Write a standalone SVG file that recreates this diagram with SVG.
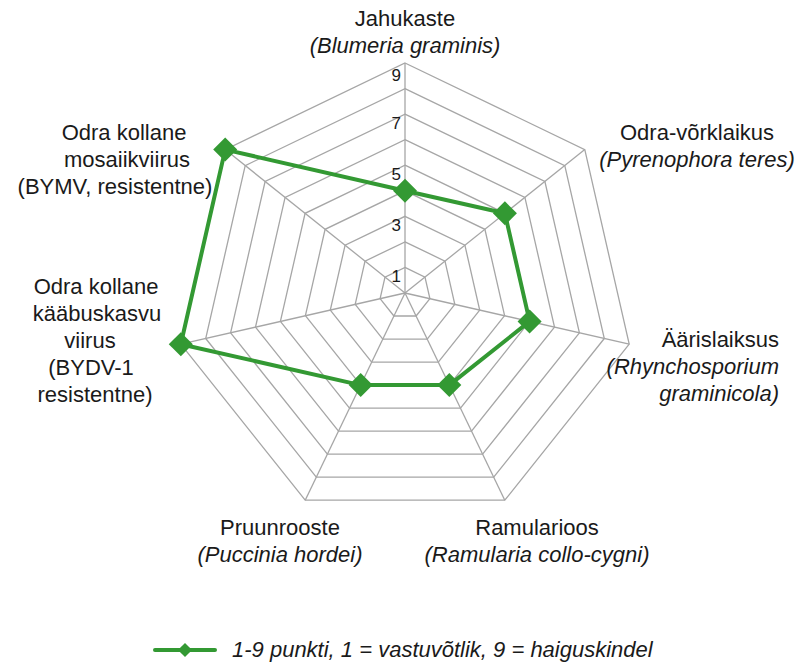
<svg xmlns="http://www.w3.org/2000/svg" width="812" height="667" viewBox="0 0 812 667">
<style>
.g polygon{fill:none;stroke:#a6a6a6;stroke-width:1.3}
text{font-family:"Liberation Sans",Arial,sans-serif;font-size:22px;fill:#1a1a1a}
.i{font-style:italic}
.n{font-size:17px;text-anchor:end}
.d{fill:#339933}
</style>
<defs>
<rect id="m" x="-8.5" y="-8.5" width="17" height="17" transform="rotate(45)"/>
</defs>
<rect width="812" height="667" fill="#fff"/>
<g id="grid" class="g">
<polygon points="405,267.4 425.0,277.1 429.9,298.7 416.1,316.0 393.9,316.0 380.1,298.7 385.0,277.1"/>
<polygon points="405,241.9 445.0,261.1 454.8,304.4 427.2,339.1 382.8,339.1 355.2,304.4 365.0,261.1"/>
<polygon points="405,216.3 464.9,245.2 479.7,310.1 438.3,362.1 371.7,362.1 330.3,310.1 345.1,245.2"/>
<polygon points="405,190.8 484.9,229.3 504.6,315.7 449.3,385.1 360.7,385.1 305.4,315.7 325.1,229.3"/>
<polygon points="405,165.2 504.9,213.3 529.6,321.4 460.5,408.1 349.5,408.1 280.4,321.4 305.1,213.3"/>
<polygon points="405,139.7 524.9,197.4 554.5,327.1 471.5,431.1 338.5,431.1 255.5,327.1 285.1,197.4"/>
<polygon points="405,114.1 544.9,181.5 579.4,332.8 482.6,454.2 327.4,454.2 230.6,332.8 265.1,181.5"/>
<polygon points="405,88.6 564.8,165.6 604.3,338.5 493.7,477.2 316.3,477.2 205.7,338.5 245.2,165.6"/>
<polygon points="405,63 584.8,149.6 629.2,344.2 504.8,500.2 305.2,500.2 180.8,344.2 225.2,149.6"/>
</g>
<g id="spokes" stroke="#a6a6a6" stroke-width="1.3">
<line x1="405" y1="293" x2="405" y2="63"/>
<line x1="405" y1="293" x2="584.8" y2="149.6"/>
<line x1="405" y1="293" x2="629.2" y2="344.2"/>
<line x1="405" y1="293" x2="504.8" y2="500.2"/>
<line x1="405" y1="293" x2="305.2" y2="500.2"/>
<line x1="405" y1="293" x2="180.8" y2="344.2"/>
<line x1="405" y1="293" x2="225.2" y2="149.6"/>
</g>
<g id="ticks">
<text class="n" x="401" y="282">1</text>
<text class="n" x="401" y="231">3</text>
<text class="n" x="401" y="180">5</text>
<text class="n" x="401" y="129">7</text>
<text class="n" x="401" y="81">9</text>
</g>
<g id="series">
<polygon points="405,190.8 504.9,213.3 529.6,321.4 449.3,385.1 360.7,385.1 180.8,344.2 225.2,149.6" fill="none" stroke="#339933" stroke-width="4" stroke-linejoin="round"/>
<g class="d">
<use href="#m" x="405" y="190.8"/>
<use href="#m" x="504.9" y="213.3"/>
<use href="#m" x="529.6" y="321.4"/>
<use href="#m" x="449.3" y="385.1"/>
<use href="#m" x="360.7" y="385.1"/>
<use href="#m" x="180.8" y="344.2"/>
<use href="#m" x="225.2" y="149.6"/>
</g>
</g>
<g id="labels">
<g text-anchor="middle">
<text x="405" y="26">Jahukaste</text>
<text x="405" y="53" class="i">(Blumeria graminis)</text>
<text x="697" y="140">Odra-võrklaikus</text>
<text x="697" y="167" class="i">(Pyrenophora teres)</text>
<text x="537" y="535">Ramularioos</text>
<text x="537" y="562" class="i">(Ramularia collo-cygni)</text>
<text x="280" y="535">Pruunrooste</text>
<text x="280" y="562" class="i">(Puccinia hordei)</text>
<text x="124" y="140">Odra kollane</text>
<text x="127" y="167">mosaiikviirus</text>
<text x="115" y="194">(BYMV, resistentne)</text>
<text x="96" y="294">Odra kollane</text>
<text x="97" y="321">kääbuskasvu</text>
<text x="90" y="348">viirus</text>
<text x="91" y="375">(BYDV-1</text>
<text x="95" y="402">resistentne)</text>
</g>
<g text-anchor="end" class="i">
<text x="779" y="347" style="font-style:normal">Äärislaiksus</text>
<text x="779" y="374">(Rhynchosporium</text>
<text x="779" y="401">graminicola)</text>
</g>
</g>
<g id="legend">
<line x1="155" y1="650" x2="215" y2="650" stroke="#339933" stroke-width="4" stroke-linecap="round"/>
<rect x="180" y="645" width="10" height="10" class="d" transform="rotate(45 185 650)"/>
<text x="232" y="657" class="i">1-9 punkti, 1 = vastuvõtlik, 9 = haiguskindel</text>
</g>
</svg>
